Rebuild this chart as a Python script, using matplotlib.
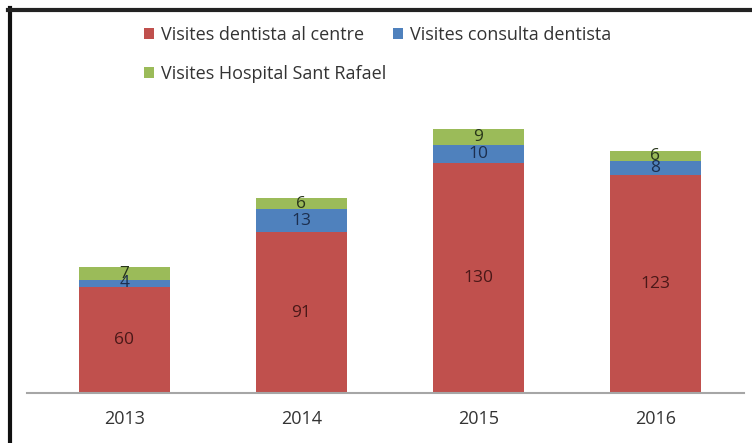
import matplotlib
matplotlib.use("Agg")
import matplotlib.pyplot as plt
from matplotlib.lines import Line2D
import numpy as np

years = ["2013", "2014", "2015", "2016"]
centre = [60, 91, 130, 123]
consulta = [4, 13, 10, 8]
hospital = [7, 6, 9, 6]
series_names = ["Visites dentista al centre", "Visites consulta dentista", "Visites Hospital Sant Rafael"]
colors = ["#C0504D", "#4F81BD", "#9BBB59"]
label_colors = ["#4a1818", "#1c2f4f", "#28361a"]

plt.rcParams['font.family'] = ['Open Sans', 'DejaVu Sans']

fig = plt.figure(figsize=(7.52, 4.43), dpi=100)
ax = fig.add_axes([27/752, 50/443, (744-27)/752, 283/443])

x = np.arange(len(years))
bottom = np.zeros(len(years))
handles = []
for vals, c, lc, name in zip([centre, consulta, hospital], colors, label_colors, series_names):
    bars = ax.bar(x, vals, width=0.51, bottom=bottom, color=c, label=name)
    ax.bar_label(bars, labels=[str(v) for v in vals], label_type='center',
                 fontsize=12.5, color=lc)
    bottom += np.array(vals)
    handles.append(bars)

ax.set_xlim(-0.55, 3.5)
ax.set_ylim(0, 160)
ax.set_xticks(x)
ax.set_xticklabels(years, fontsize=13, color='#333333')
ax.tick_params(axis='x', length=0, pad=12)
ax.set_yticks([])
for s in ['top', 'right', 'left']:
    ax.spines[s].set_visible(False)
ax.spines['bottom'].set_color('#A6A6A6')
ax.spines['bottom'].set_linewidth(1.5)

# order so that column-major filling gives rows: [centre, consulta], [hospital]
order = [0, 2, 1]
leg = fig.legend(handles=[handles[i] for i in order], labels=[series_names[i] for i in order],
                 ncol=2, loc='upper left', bbox_to_anchor=(128/752, 1 - 10/443),
                 frameon=False, fontsize=13, handlelength=0.55, handleheight=0.55,
                 handletextpad=0.4, columnspacing=0.35, labelspacing=1.15)
for t in leg.get_texts():
    t.set_color('#333333')

# frame border (left and top)
fig.add_artist(Line2D([9.5/752, 9.5/752], [0, 1 - 8/443], transform=fig.transFigure,
                      color='#111111', linewidth=3))
fig.add_artist(Line2D([8/752, 1], [1 - 9.5/443, 1 - 9.5/443], transform=fig.transFigure,
                      color='#222222', linewidth=3))

fig.savefig("out.png", dpi=100)
